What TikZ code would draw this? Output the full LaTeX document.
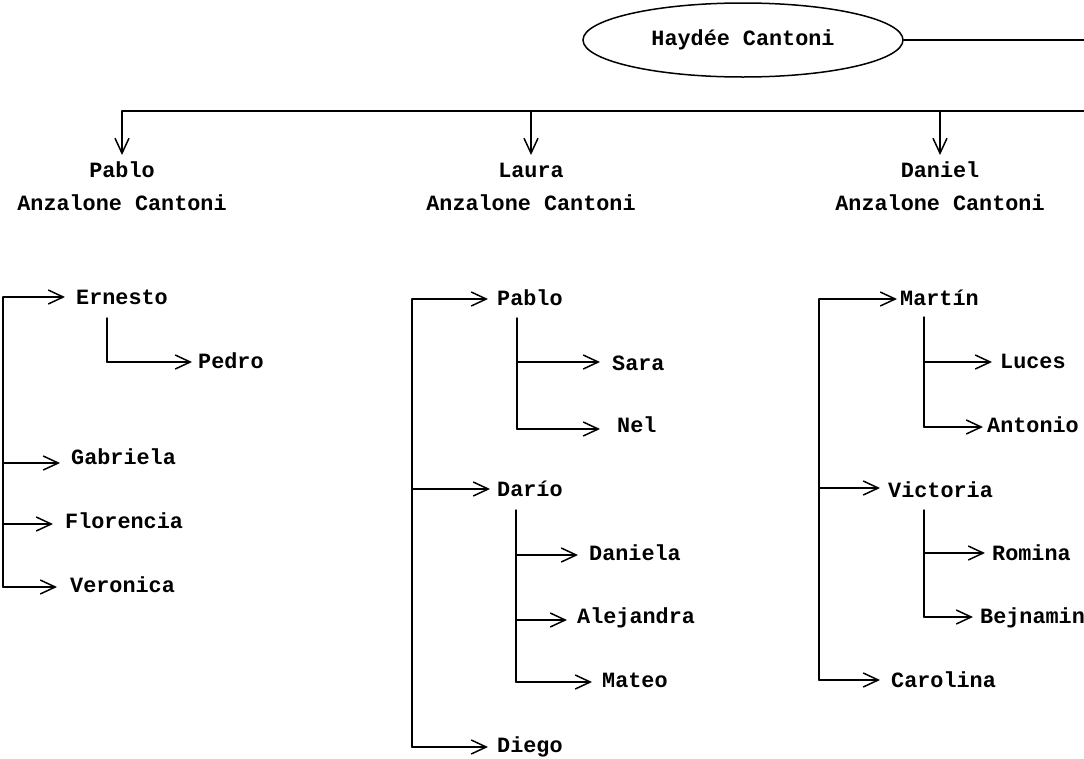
\documentclass[tikz,border=0pt]{standalone}
\usepackage{fontspec}
\setmonofont{Liberation Mono}
\usetikzlibrary{arrows.meta,shapes.geometric}
\tikzset{
  ln/.style={line width=1.5pt, line cap=round, line join=miter},
  arr/.style={ln, -{Straight Barb[length=15pt,width=14pt,line width=1.5pt]}},
  fnt/.style={font=\ttfamily\bfseries\fontsize{21.8}{33}\selectfont},
  nm/.style={fnt, inner sep=0pt, anchor=base west},
  kid/.style={fnt, inner sep=0pt, anchor=base, align=center},
  root/.style={fnt, ellipse, draw, line width=1.5pt, minimum width=320pt, minimum height=74pt, inner sep=0pt}
}
\begin{document}
\begin{tikzpicture}[x=1pt,y=-1pt]
\useasboundingbox (0,0) rectangle (1084,758);
% root
\node[root] (hay) at (743,40) {Hayd\'ee Cantoni};
\coordinate (rtop) at (1084,40);
\draw[ln] (hay.east) -- (rtop);
\coordinate (busL) at (122,111);
\coordinate (busR) at (1084,111);
\draw[ln] (busL) -- (busR);
% children (base = last line)
\node[kid] (pablo) at (122,210) {Pablo\\Anzalone Cantoni};
\node[kid] (laura) at (531,210) {Laura\\Anzalone Cantoni};
\node[kid] (daniel) at (940,210) {Daniel\\Anzalone Cantoni};
\draw[arr] (busL) -- ([shift={(0,-55)}]pablo.base);
\draw[arr] (laura.base |- busL) -- ([shift={(0,-55)}]laura.base);
\draw[arr] (daniel.base |- busL) -- ([shift={(0,-55)}]daniel.base);

% ---- Pablo's children
\coordinate (pbT) at (3,297);
\coordinate (pbB) at (3,587);
\draw[ln] (pbT) -- (pbB);
\node[nm] (ern) at (76,304) {Ernesto};
\node[nm] (gab) at (71,464) {Gabriela};
\node[nm] (flo) at (65,528) {Florencia};
\node[nm] (ver) at (70,592) {Veronica};
\draw[arr] (pbT) -- ([shift={(-11,-7)}]ern.base west);
\draw[arr] (pbT |- 0,463) -- ([shift={(-11,-1)}]gab.base west);
\draw[arr] (pbT |- 0,524) -- ([shift={(-12,-4)}]flo.base west);
\draw[arr] (pbB) -- ([shift={(-13,-5)}]ver.base west);
\node[nm] (ped) at (198,368) {Pedro};
\coordinate (ernB) at (107,318);
\draw[ln] (ernB) -- (107,362) coordinate (ernC);
\draw[arr] (ernC) -- ([shift={(-6,-6)}]ped.base west);

% ---- Laura's children
\coordinate (lbT) at (412,299);
\coordinate (lbB) at (412,747);
\draw[ln] (lbT) -- (lbB);
\node[nm] (lpa) at (497,305) {Pablo};
\node[nm] (dar) at (497,496) {Dar\'{\i}o};
\node[nm] (die) at (497,752) {Diego};
\draw[arr] (lbT) -- ([shift={(-9,-6)}]lpa.base west);
\draw[arr] (lbT |- 0,489) -- ([shift={(-7,-7)}]dar.base west);
\draw[arr] (lbB) -- ([shift={(-9,-5)}]die.base west);
% Pablo -> Sara, Nel
\coordinate (lpT) at (517,318);
\coordinate (lpB) at (517,429);
\draw[ln] (lpT) -- (lpB);
\node[nm] (sar) at (612,370) {Sara};
\node[nm] (nel) at (617,432) {Nel};
\draw[arr] (lpT |- 0,362) -- ([shift={(-12,-8)}]sar.base west);
\draw[arr] (lpB) -- ([shift={(-17,-3)}]nel.base west);
% Dario -> Daniela, Alejandra, Mateo
\coordinate (ldT) at (516,510);
\coordinate (ldB) at (516,682);
\draw[ln] (ldT) -- (ldB);
\node[nm] (dla) at (589,560) {Daniela};
\node[nm] (ale) at (577,623) {Alejandra};
\node[nm] (mat) at (602,687) {Mateo};
\draw[arr] (ldT |- 0,555) -- ([shift={(-11,-5)}]dla.base west);
\draw[arr] (ldT |- 0,620) -- ([shift={(-10,-3)}]ale.base west);
\draw[arr] (ldB) -- ([shift={(-10,-5)}]mat.base west);

% ---- Daniel's children
\coordinate (dbT) at (819,299);
\coordinate (dbB) at (819,680);
\draw[ln] (dbT) -- (dbB);
\node[nm] (mar) at (900,305) {Mart\'{\i}n};
\node[nm] (vic) at (888,497) {Victoria};
\node[nm] (car) at (891,687) {Carolina};
\draw[arr] (dbT) -- ([shift={(-3,-6)}]mar.base west);
\draw[arr] (dbT |- 0,488) -- ([shift={(-8,-9)}]vic.base west);
\draw[arr] (dbB) -- ([shift={(-11,-7)}]car.base west);
% Martin -> Luces, Antonio
\coordinate (dmT) at (924,317);
\coordinate (dmB) at (924,427);
\draw[ln] (dmT) -- (dmB);
\node[nm] (luc) at (1000,368) {Luces};
\node[nm] (ant) at (987,432) {Antonio};
\draw[arr] (dmT |- 0,362) -- ([shift={(-8,-6)}]luc.base west);
\draw[arr] (dmB) -- ([shift={(-4,-5)}]ant.base west);
% Victoria -> Romina, Bejnamin
\coordinate (dvT) at (924,510);
\coordinate (dvB) at (924,617);
\draw[ln] (dvT) -- (dvB);
\node[nm] (rom) at (992,560) {Romina};
\node[nm] (bej) at (980,623) {Bejnamin};
\draw[arr] (dvT |- 0,553) -- ([shift={(-7,-7)}]rom.base west);
\draw[arr] (dvB) -- ([shift={(-7,-6)}]bej.base west);
\end{tikzpicture}
\end{document}
